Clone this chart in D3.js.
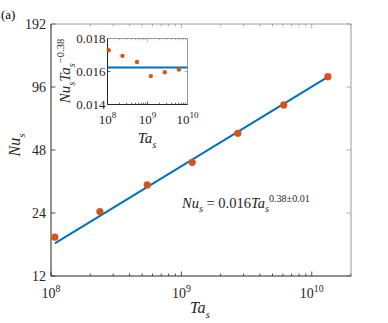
<!DOCTYPE html>
<html><head><meta charset="utf-8">
<script src="https://cdn.jsdelivr.net/npm/d3@7"></script>
<style>html,body{margin:0;padding:0;background:#fff;}svg{display:block;} svg text, svg tspan{font-family:"Liberation Serif" !important;}</style>
</head><body>
<script>
// ---- data ----
const taValues  = [1.07e8, 2.37e8, 5.47e8, 1.21e9, 2.71e9, 6.1e9, 1.33e10];
const nuValues  = [18.4, 24.4, 32.7, 41.9, 57.7, 78.8, 107.6];
const fitTa     = [1.07e8, 1.33e10];
const fitNu     = [17.2, 107.3];
const insetTa   = [1.07e8, 2.37e8, 5.47e8, 1.21e9, 2.71e9, 6.1e9];
const insetComp = [0.01729, 0.01695, 0.01658, 0.01572, 0.01596, 0.01612];
const insetFit  = 0.01624;
const yTicks    = [12, 24, 48, 96, 192];
const xMajor    = [1e8, 1e9, 1e10];
const insetYTicks = [0.014, 0.016, 0.018];

const W = 388, H = 323;
const blue = "#0072BD", orange = "#D95319", axc = "#262626", boxc = "#9a9a9a";

const svg = d3.select("body").append("svg").attr("width", W).attr("height", H);

function rich(sel, parts, base) {
  let shift = 0;
  parts.forEach(p => {
    let target = p.sub ? base*0.3 : (p.sup ? -base*0.42 : 0);
    sel.append("tspan").text(p.t)
      .style("font-size", ((p.sub || p.sup) ? base*0.7 : base) + "px")
      .style("font-style", p.i ? "italic" : "normal")
      .attr("dy", target - shift);
    shift = target;
  });
}

// ---- main axes ----
const L = 51, R = 351, T = 24, B = 276;
const x = d3.scaleLog().domain([1e8, 2e10]).range([L, R]);
const y = d3.scaleLog().base(2).domain([12, 192]).range([B, T]);

const minorX = [];
for (let e = 8; e <= 10; e++) for (let m = 1; m <= 9; m++) { const v = m*Math.pow(10,e); if (v <= 2e10) minorX.push(v); }

const g = svg.append("g");
g.selectAll(".mxb").data(minorX).join("line")
  .attr("x1", d=>x(d)).attr("x2", d=>x(d)).attr("y1", B).attr("y2", d=> B - (xMajor.includes(d)?4.5:2.5))
  .attr("stroke", axc).attr("stroke-width", 0.8);
g.selectAll(".mxt").data(minorX).join("line")
  .attr("x1", d=>x(d)).attr("x2", d=>x(d)).attr("y1", T).attr("y2", d=> T + (xMajor.includes(d)?4.5:2.5))
  .attr("stroke", boxc).attr("stroke-width", 0.8);
g.selectAll(".yl").data(yTicks).join("line")
  .attr("x1", L).attr("x2", L+4.5).attr("y1", d=>y(d)).attr("y2", d=>y(d)).attr("stroke", axc).attr("stroke-width", 0.8);
g.selectAll(".yr").data(yTicks).join("line")
  .attr("x1", R).attr("x2", R-4.5).attr("y1", d=>y(d)).attr("y2", d=>y(d)).attr("stroke", boxc).attr("stroke-width", 0.8);
g.append("line").attr("x1", L).attr("x2", R).attr("y1", T).attr("y2", T).attr("stroke", boxc).attr("stroke-width", 1);
g.append("line").attr("x1", R).attr("x2", R).attr("y1", T).attr("y2", B).attr("stroke", boxc).attr("stroke-width", 1);
g.append("line").attr("x1", L).attr("x2", R).attr("y1", B).attr("y2", B).attr("stroke", axc).attr("stroke-width", 1);
g.append("line").attr("x1", L).attr("x2", L).attr("y1", T).attr("y2", B).attr("stroke", axc).attr("stroke-width", 1);

g.selectAll(".ylab").data(yTicks).join("text")
  .attr("x", L-5).attr("y", d=>y(d)).attr("dy", "0.35em").attr("text-anchor", "end")
  .style("font-size", "14px").attr("fill", axc).text(d=>d);
g.selectAll(".xlab").data(xMajor).join("text")
  .attr("x", d=>x(d)).attr("y", B+22).attr("text-anchor", "middle").attr("fill", axc)
  .each(function(d){ rich(d3.select(this), [{t:"10"},{t:String(Math.round(Math.log10(d))), sup:true}], 14); });

g.append("path").datum(fitTa.map((t,i)=>[t, fitNu[i]]))
  .attr("d", d3.line().x(d=>x(d[0])).y(d=>y(d[1])))
  .attr("stroke", blue).attr("stroke-width", 2).attr("fill", "none");
g.selectAll(".pt").data(taValues).join("circle")
  .attr("cx", d=>x(d)).attr("cy", (d,i)=>y(nuValues[i])).attr("r", 3.6).attr("fill", orange);

svg.append("text").attr("x", 200).attr("y", 313).attr("text-anchor", "middle").attr("fill", axc)
  .each(function(){ rich(d3.select(this), [{t:"Ta", i:true},{t:"s", i:true, sub:true}], 16); });
svg.append("text").attr("transform", "translate(20,145) rotate(-90)").attr("text-anchor", "middle").attr("fill", axc)
  .each(function(){ rich(d3.select(this), [{t:"Nu", i:true},{t:"s", i:true, sub:true}], 16); });

svg.append("text").attr("x", 182).attr("y", 208).attr("fill", axc)
  .each(function(){ rich(d3.select(this), [{t:"Nu", i:true},{t:"s", i:true, sub:true},{t:" = 0.016"},{t:"Ta", i:true},{t:"s", i:true, sub:true},{t:"0.38±0.01", sup:true}], 14.5); });

svg.append("text").attr("x", 1).attr("y", 19).style("font-size", "13px").attr("fill", "#000").text("(a)");

// ---- inset ----
const iL = 107.5, iR = 187.5, iT = 38.5, iB = 104.5;
const xi = d3.scaleLog().domain([1e8, 1e10]).range([iL, iR]);
const yi = d3.scaleLinear().domain([0.014, 0.018]).range([iB, iT]);
const gi = svg.append("g");
gi.append("rect").attr("x", iL).attr("y", iT).attr("width", iR-iL).attr("height", iB-iT).attr("fill", "#fff");
const minorXi = [];
for (let e = 8; e <= 10; e++) for (let m = 1; m <= 9; m++) { const v = m*Math.pow(10,e); if (v <= 1e10) minorXi.push(v); }
gi.selectAll(".a").data(minorXi).join("line")
  .attr("x1", d=>xi(d)).attr("x2", d=>xi(d)).attr("y1", iB).attr("y2", d=> iB - (xMajor.includes(d)?3:1.8))
  .attr("stroke", axc).attr("stroke-width", 0.7);
gi.selectAll(".b").data(minorXi).join("line")
  .attr("x1", d=>xi(d)).attr("x2", d=>xi(d)).attr("y1", iT).attr("y2", d=> iT + (xMajor.includes(d)?3:1.8))
  .attr("stroke", boxc).attr("stroke-width", 0.7);
gi.selectAll(".c").data(insetYTicks).join("line")
  .attr("x1", iL).attr("x2", iL+3).attr("y1", d=>yi(d)).attr("y2", d=>yi(d)).attr("stroke", axc).attr("stroke-width", 0.7);
gi.selectAll(".d").data(insetYTicks).join("line")
  .attr("x1", iR).attr("x2", iR-3).attr("y1", d=>yi(d)).attr("y2", d=>yi(d)).attr("stroke", boxc).attr("stroke-width", 0.7);
gi.append("line").attr("x1", iL).attr("x2", iR).attr("y1", iT).attr("y2", iT).attr("stroke", boxc);
gi.append("line").attr("x1", iR).attr("x2", iR).attr("y1", iT).attr("y2", iB).attr("stroke", boxc);
gi.append("line").attr("x1", iL).attr("x2", iR).attr("y1", iB).attr("y2", iB).attr("stroke", axc);
gi.append("line").attr("x1", iL).attr("x2", iL).attr("y1", iT).attr("y2", iB).attr("stroke", axc);

gi.append("line").attr("x1", iL).attr("x2", iR).attr("y1", yi(insetFit)).attr("y2", yi(insetFit))
  .attr("stroke", blue).attr("stroke-width", 2);
gi.selectAll(".ip").data(insetTa).join("circle")
  .attr("cx", d=>xi(d)).attr("cy", (d,i)=>yi(insetComp[i])).attr("r", 2.2).attr("fill", orange);

gi.selectAll(".iyl").data(insetYTicks).join("text")
  .attr("x", iL-2).attr("y", d=>yi(d)).attr("dy", "0.35em").attr("text-anchor", "end")
  .style("font-size", "13px").attr("fill", axc).text(d=>d.toFixed(3));
gi.selectAll(".ixl").data(xMajor).join("text")
  .attr("x", d=>xi(d)).attr("y", iB+19).attr("text-anchor", "middle").attr("fill", axc)
  .each(function(d){ rich(d3.select(this), [{t:"10"},{t:String(Math.round(Math.log10(d))), sup:true}], 13); });
svg.append("text").attr("x", 147).attr("y", 143).attr("text-anchor", "middle").attr("fill", axc)
  .each(function(){ rich(d3.select(this), [{t:"Ta", i:true},{t:"s", i:true, sub:true}], 15); });
svg.append("text").attr("transform", "translate(70,71) rotate(-90)").attr("text-anchor", "middle").attr("fill", axc)
  .each(function(){ rich(d3.select(this), [{t:"Nu", i:true},{t:"s", i:true, sub:true},{t:"Ta", i:true},{t:"s", i:true, sub:true},{t:"−0.38", sup:true}], 15); });
</script>
</body></html>
